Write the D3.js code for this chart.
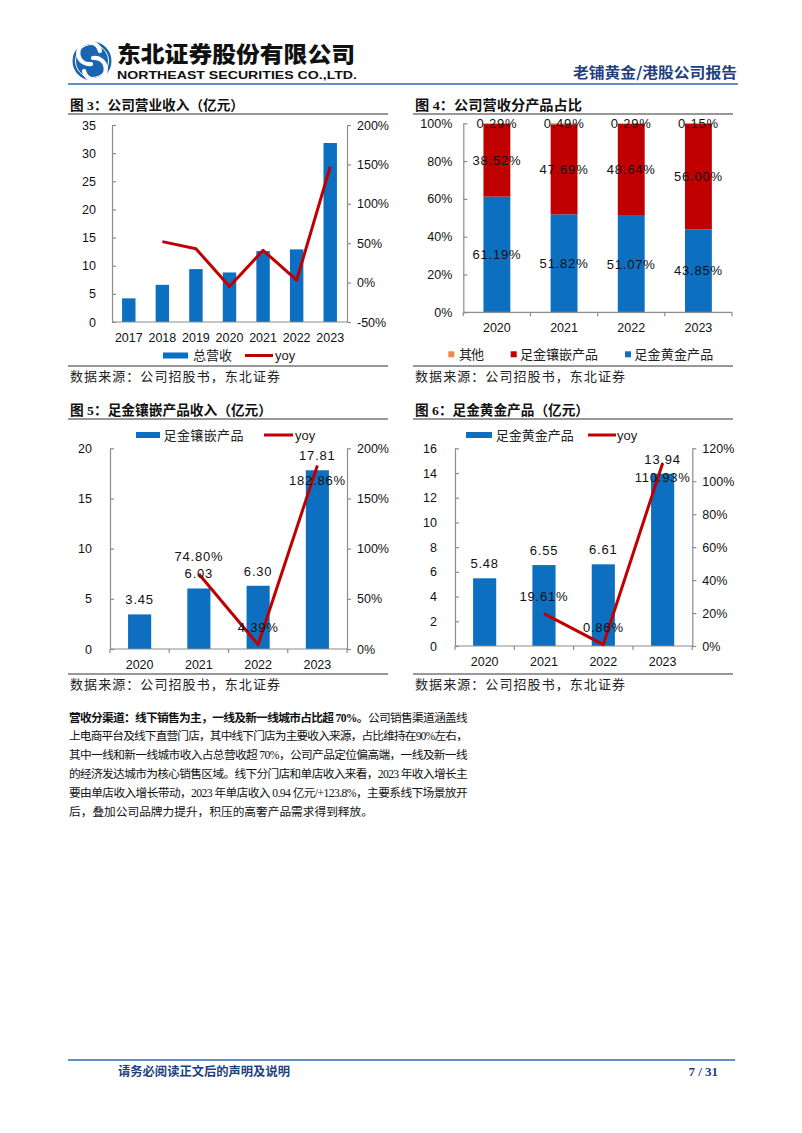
<!DOCTYPE html>
<html><head><meta charset="utf-8">
<script src="https://cdn.jsdelivr.net/npm/d3@7"></script>
<style>body{margin:0;background:#fff} svg{display:block}</style>
</head><body><svg id="c" width="802" height="1133"></svg>
<script>
// ---------------- DATA ----------------
const years3 = ["2017","2018","2019","2020","2021","2022","2023"];
const revenue3 = [4.2, 6.6, 9.4, 8.8, 12.6, 12.9, 31.8];
const yoy3 = [null, 52, 43, -5, 41, 3, 147];
const leftTicks3 = [0,5,10,15,20,25,30,35];
const rightTicks3 = [-50,0,50,100,150,200];

const years4 = ["2020","2021","2022","2023"];
const gold4 = [61.19, 51.82, 51.07, 43.85];
const inlay4 = [38.52, 47.69, 48.64, 56.00];
const other4 = [0.29, 0.49, 0.29, 0.15];
const leftTicks4 = [0,20,40,60,80,100];

const years5 = ["2020","2021","2022","2023"];
const inlayRev5 = [3.45, 6.03, 6.30, 17.81];
const inlayYoy5 = [null, 74.80, 4.39, 182.86];
const leftTicks5 = [0,5,10,15,20];
const rightTicks5 = [0,50,100,150,200];

const years6 = ["2020","2021","2022","2023"];
const goldRev6 = [5.48, 6.55, 6.61, 13.94];
const goldYoy6 = [null, 19.61, 0.86, 110.93];
const leftTicks6 = [0,2,4,6,8,10,12,14,16];
const rightTicks6 = [0,20,40,60,80,100,120];

const paraLines = [
  [{t:"营收分渠道：线下销售为主，一线及新一线城市占比超 70%。", b:true},{t:"公司销售渠道涵盖线"}],
  [{t:"上电商平台及线下直营门店，其中线下门店为主要收入来源，占比维持在90%左右，"}],
  [{t:"其中一线和新一线城市收入占总营收超 70%，公司产品定位偏高端，一线及新一线"}],
  [{t:"的经济发达城市为核心销售区域。线下分门店和单店收入来看，2023 年收入增长主"}],
  [{t:"要由单店收入增长带动，2023 年单店收入 0.94 亿元/+123.8%，主要系线下场景放开"}],
  [{t:"后，叠加公司品牌力提升，积压的高奢产品需求得到释放。"}]
];

// ---------------- STYLE ----------------
const CJK = "'Noto Sans CJK SC', sans-serif";
const LAT = "'Liberation Sans', Arial, sans-serif";
const SER = "'Liberation Serif', 'Noto Sans CJK SC', serif";
const BLUE = "#0D6FC0", RED = "#C00000", ORANGE = "#F08A45", AXIS = "#8C8C8C";
const NAVY = "#1F3F7F", HLINE = "#2F6DB5";

const svg = d3.select("#c");
svg.append("rect").attr("width",802).attr("height",1133).attr("fill","#fff");

// ---------------- HEADER ----------------
const hg = svg.append("g");
hg.append("circle").attr("cx",92).attr("cy",61).attr("r",19.5).attr("fill","#1B64B4");
hg.append("circle").attr("cx",92).attr("cy",61).attr("r",16.5).attr("fill","none").attr("stroke","#fff").attr("stroke-width",1);
hg.append("path").attr("transform","translate(92,61)")
  .attr("d","M 8 -10 A 11 11 0 1 0 -1 3 M -8 10 A 11 11 0 1 0 1 -3")
  .attr("fill","none").attr("stroke","#fff").attr("stroke-width",4.2).attr("stroke-linecap","round");
hg.append("text").attr("x",117).attr("y",62).text("东北证券股份有限公司")
  .attr("font-family",CJK).attr("font-weight",900).attr("font-size",22)
  .attr("textLength",238).attr("lengthAdjust","spacingAndGlyphs").attr("fill","#111");
hg.append("text").attr("x",117).attr("y",78.5).text("NORTHEAST SECURITIES CO.,LTD.")
  .attr("font-family",LAT).attr("font-weight",700).attr("font-size",11.5)
  .attr("textLength",240).attr("lengthAdjust","spacingAndGlyphs").attr("fill","#111");
hg.append("text").attr("x",737).attr("y",78).attr("text-anchor","end").text("老铺黄金/港股公司报告")
  .attr("font-family",CJK).attr("font-weight",700).attr("font-size",14.5)
  .attr("textLength",164).attr("lengthAdjust","spacingAndGlyphs").attr("fill",NAVY);
hg.append("line").attr("x1",68).attr("x2",738).attr("y1",84).attr("y2",84).attr("stroke",HLINE).attr("stroke-width",1.5);

// ---------------- HELPERS ----------------
function frame(x0, x1, titleY, lineY, bottomY, title, titleLen){
  svg.append("text").attr("x",x0+2).attr("y",titleY).text(title)
    .attr("font-family",SER).attr("font-weight",700).attr("font-size",13.5)
    .attr("textLength",titleLen).attr("lengthAdjust","spacingAndGlyphs").attr("fill","#111");
  svg.append("line").attr("x1",x0).attr("x2",x1).attr("y1",lineY).attr("y2",lineY).attr("stroke","#333").attr("stroke-width",1);
  svg.append("line").attr("x1",x0).attr("x2",x1).attr("y1",bottomY).attr("y2",bottomY).attr("stroke","#333").attr("stroke-width",1);
  svg.append("text").attr("x",x0+2).attr("y",bottomY+15).text("数据来源：公司招股书，东北证券")
    .attr("font-family",CJK).attr("font-size",13).attr("textLength",210).attr("lengthAdjust","spacing").attr("fill","#222");
}
function styleAxis(sel){
  sel.attr("font-family",null).attr("font-size",null);
  sel.select(".domain").attr("stroke",AXIS).attr("stroke-width",1.2);
  sel.selectAll(".tick line").attr("stroke",AXIS).attr("stroke-width",1.2);
  sel.selectAll(".tick text").attr("font-family",LAT).attr("font-size",12.5).attr("fill","#111");
}
function legendRect(x, y, w, h, color, label, tx, tlen){
  svg.append("rect").attr("x",x).attr("y",y-h/2).attr("width",w).attr("height",h).attr("fill",color);
  svg.append("text").attr("x",tx).attr("y",y+4.5).text(label).attr("font-family",CJK).attr("font-size",13)
    .attr("textLength",tlen).attr("lengthAdjust","spacing").attr("fill","#222");
}
function legendLine(x, y, w, label, tx){
  svg.append("line").attr("x1",x).attr("x2",x+w).attr("y1",y).attr("y2",y).attr("stroke",RED).attr("stroke-width",3);
  svg.append("text").attr("x",tx).attr("y",y+4.5).text(label).attr("font-family",LAT).attr("font-size",13).attr("fill","#222");
}

function combo(o){
  const x = d3.scaleBand().domain(o.cats).range([o.x0,o.x1]).paddingInner(o.pad).paddingOuter(o.pad/2);
  const yL = d3.scaleLinear().domain(o.lDom).range([o.yB,o.yT]);
  const yR = d3.scaleLinear().domain(o.rDom).range([o.yB,o.yT]);
  const g = svg.append("g");
  g.selectAll("rect.bar").data(o.bars).join("rect").attr("class","bar")
    .attr("x",(d,i)=>x(o.cats[i])).attr("width",x.bandwidth())
    .attr("y",d=>yL(d)).attr("height",d=>yL(0)-yL(d)).attr("fill",BLUE);
  const la = g.append("g").attr("transform",`translate(${o.x0},0)`)
    .call(d3.axisLeft(yL).tickValues(o.lTicks).tickSize(-4).tickSizeOuter(0).tickPadding(o.lpad));
  styleAxis(la);
  const ra = g.append("g").attr("transform",`translate(${o.x1},0)`)
    .call(d3.axisRight(yR).tickValues(o.rTicks).tickSize(4).tickSizeOuter(0).tickPadding(6).tickFormat(d=>d+"%"));
  styleAxis(ra);
  g.append("line").attr("x1",o.x0).attr("x2",o.x1).attr("y1",yL(0)).attr("y2",yL(0)).attr("stroke",AXIS).attr("stroke-width",1.2);
  if(o.xTicks){
    d3.range(o.cats.length+1).forEach(i=>{
      const xx = o.x0 + i*x.step();
      g.append("line").attr("x1",xx).attr("x2",xx).attr("y1",yL(0)).attr("y2",yL(0)+4).attr("stroke",AXIS).attr("stroke-width",1.2);
    });
  }
  g.selectAll("text.xl").data(o.cats).join("text").attr("class","xl")
    .attr("x",d=>x(d)+x.bandwidth()/2).attr("y",yL(0)+19.5).attr("text-anchor","middle")
    .attr("font-family",LAT).attr("font-size",12.5).attr("fill","#111").text(d=>d);
  const pts = o.cats.map((c,i)=>({c, v:o.line[i]})).filter(p=>p.v!=null);
  g.append("path").datum(pts)
    .attr("d", d3.line().x(p=>x(p.c)+x.bandwidth()/2).y(p=>yR(p.v)))
    .attr("fill","none").attr("stroke",RED).attr("stroke-width",3).attr("stroke-linejoin","round");
  if(o.labels){
    g.selectAll("text.bl").data(o.bars).join("text").attr("class","bl")
      .attr("x",(d,i)=>x(o.cats[i])+x.bandwidth()/2).attr("y",d=>yL(d)-10)
      .attr("text-anchor","middle").attr("font-family",LAT).attr("font-size",13).attr("letter-spacing",0.8)
      .attr("fill","#111").text(d=>d3.format(".2f")(d));
    g.selectAll("text.yl").data(pts).join("text").attr("class","yl")
      .attr("x",p=>x(p.c)+x.bandwidth()/2)
      .attr("y",(p,i)=> o.yoyPos[i]==="below" ? yR(p.v)+19 : yR(p.v)-13)
      .attr("text-anchor","middle").attr("font-family",LAT).attr("font-size",13).attr("letter-spacing",0.8)
      .attr("fill","#111").text(p=>d3.format(".2f")(p.v)+"%");
  }
}

// ---------------- FIG 3 ----------------
frame(68, 388, 110, 114, 366, "图 3：公司营业收入（亿元）", 174);
combo({cats:years3, bars:revenue3, line:yoy3, x0:112, x1:347, yT:125, yB:322,
  lDom:[0,35], lTicks:leftTicks3, rDom:[-50,200], rTicks:rightTicks3, pad:0.6, lpad:16, xTicks:false, labels:false});
legendRect(163, 355.5, 25, 6, BLUE, "总营收", 193, 39);
legendLine(245, 355.5, 28, "yoy", 275);

// ---------------- FIG 4 ----------------
frame(413, 733, 110, 114, 366, "图 4：公司营收分产品占比", 167);
(function(){
  const x0=463.3, x1=732, yT=123.3, yB=312.3;
  const x = d3.scaleBand().domain(years4).range([x0,x1]).paddingInner(0.6).paddingOuter(0.3);
  const y = d3.scaleLinear().domain([0,100]).range([yB,yT]);
  const series = [
    {name:"足金黄金产品", vals:gold4, color:BLUE},
    {name:"足金镶嵌产品", vals:inlay4, color:RED},
    {name:"其他", vals:other4, color:ORANGE}
  ];
  const g = svg.append("g");
  years4.forEach((yr,i)=>{
    let base = 0;
    series.forEach(s=>{
      const v = s.vals[i];
      g.append("rect").attr("x",x(yr)).attr("width",x.bandwidth())
        .attr("y",y(base+v)).attr("height",y(base)-y(base+v)).attr("fill",s.color);
      g.append("text").attr("x",x(yr)+x.bandwidth()/2).attr("y",y(base+v/2)+4.5)
        .attr("text-anchor","middle").attr("font-family",LAT).attr("font-size",13).attr("letter-spacing",0.8)
        .attr("fill","#111").text(d3.format(".2f")(v)+"%");
      base += v;
    });
  });
  const la = g.append("g").attr("transform",`translate(${x0},0)`)
    .call(d3.axisLeft(y).tickValues(leftTicks4).tickSize(-4).tickSizeOuter(0).tickPadding(11).tickFormat(d=>d+"%"));
  styleAxis(la);
  g.append("line").attr("x1",x0).attr("x2",x1).attr("y1",yB).attr("y2",yB).attr("stroke",AXIS).attr("stroke-width",1.2);
  d3.range(years4.length+1).forEach(i=>{
    const xx = x0 + i*x.step();
    g.append("line").attr("x1",xx).attr("x2",xx).attr("y1",yB).attr("y2",yB+4).attr("stroke",AXIS).attr("stroke-width",1.2);
  });
  g.selectAll("text.xl").data(years4).join("text").attr("class","xl")
    .attr("x",d=>x(d)+x.bandwidth()/2).attr("y",yB+19.5).attr("text-anchor","middle")
    .attr("font-family",LAT).attr("font-size",12.5).attr("fill","#111").text(d=>d);
})();
legendRect(448.3, 354.3, 6, 6, ORANGE, "其他", 459, 25);
legendRect(510.7, 354.3, 6, 6, RED, "足金镶嵌产品", 520, 78);
legendRect(625, 354.3, 6, 6, BLUE, "足金黄金产品", 634.3, 79);

// ---------------- FIG 5 ----------------
frame(68, 388, 415, 419, 674, "图 5：足金镶嵌产品收入（亿元）", 202);
combo({cats:years5, bars:inlayRev5, line:inlayYoy5, x0:110, x1:347, yT:448.3, yB:649,
  lDom:[0,20], lTicks:leftTicks5, rDom:[0,200], rTicks:rightTicks5, pad:0.61, lpad:18, xTicks:true, labels:true,
  yoyPos:["above","above","below"]});
legendRect(136, 435, 24, 6, BLUE, "足金镶嵌产品", 163.5, 80);
legendLine(264, 435, 29, "yoy", 295);

// ---------------- FIG 6 ----------------
frame(413, 733, 415, 419, 674, "图 6：足金黄金产品（亿元）", 174);
combo({cats:years6, bars:goldRev6, line:goldYoy6, x0:455, x1:692.3, yT:448.3, yB:646,
  lDom:[0,16], lTicks:leftTicks6, rDom:[0,120], rTicks:rightTicks6, pad:0.61, lpad:18, xTicks:true, labels:true,
  yoyPos:["above","above","below"]});
legendRect(466, 435, 26, 6, BLUE, "足金黄金产品", 495.7, 78);
legendLine(588, 435, 28, "yoy", 617);

// ---------------- PARAGRAPH ----------------
const PX0 = 69, PW = 398, PY0 = 721.5, PDY = 18.9;
paraLines.forEach((parts, li)=>{
  const t = svg.append("text").attr("x",PX0).attr("y",PY0+li*PDY)
    .attr("font-family",SER).attr("font-size",11.7).attr("fill","#111");
  parts.forEach(p=>{ t.append("tspan").attr("font-weight",p.b?700:400).text(p.t); });
  if(li < paraLines.length-1){
    const nat = t.node().getComputedTextLength();
    const n = parts.map(p=>p.t).join("").length;
    t.attr("letter-spacing", (PW-nat)/n);
  }
});

// ---------------- FOOTER ----------------
svg.append("line").attr("x1",68).attr("x2",735).attr("y1",1060).attr("y2",1060).attr("stroke",HLINE).attr("stroke-width",1.5);
svg.append("text").attr("x",118).attr("y",1076).text("请务必阅读正文后的声明及说明")
  .attr("font-family",CJK).attr("font-weight",700).attr("font-size",12.3)
  .attr("textLength",172).attr("lengthAdjust","spacing").attr("fill",NAVY);
svg.append("text").attr("x",718).attr("y",1076).attr("text-anchor","end").text("7 / 31")
  .attr("font-family","'Liberation Serif', serif").attr("font-weight",700).attr("font-size",13).attr("fill",NAVY);
</script></body></html>
